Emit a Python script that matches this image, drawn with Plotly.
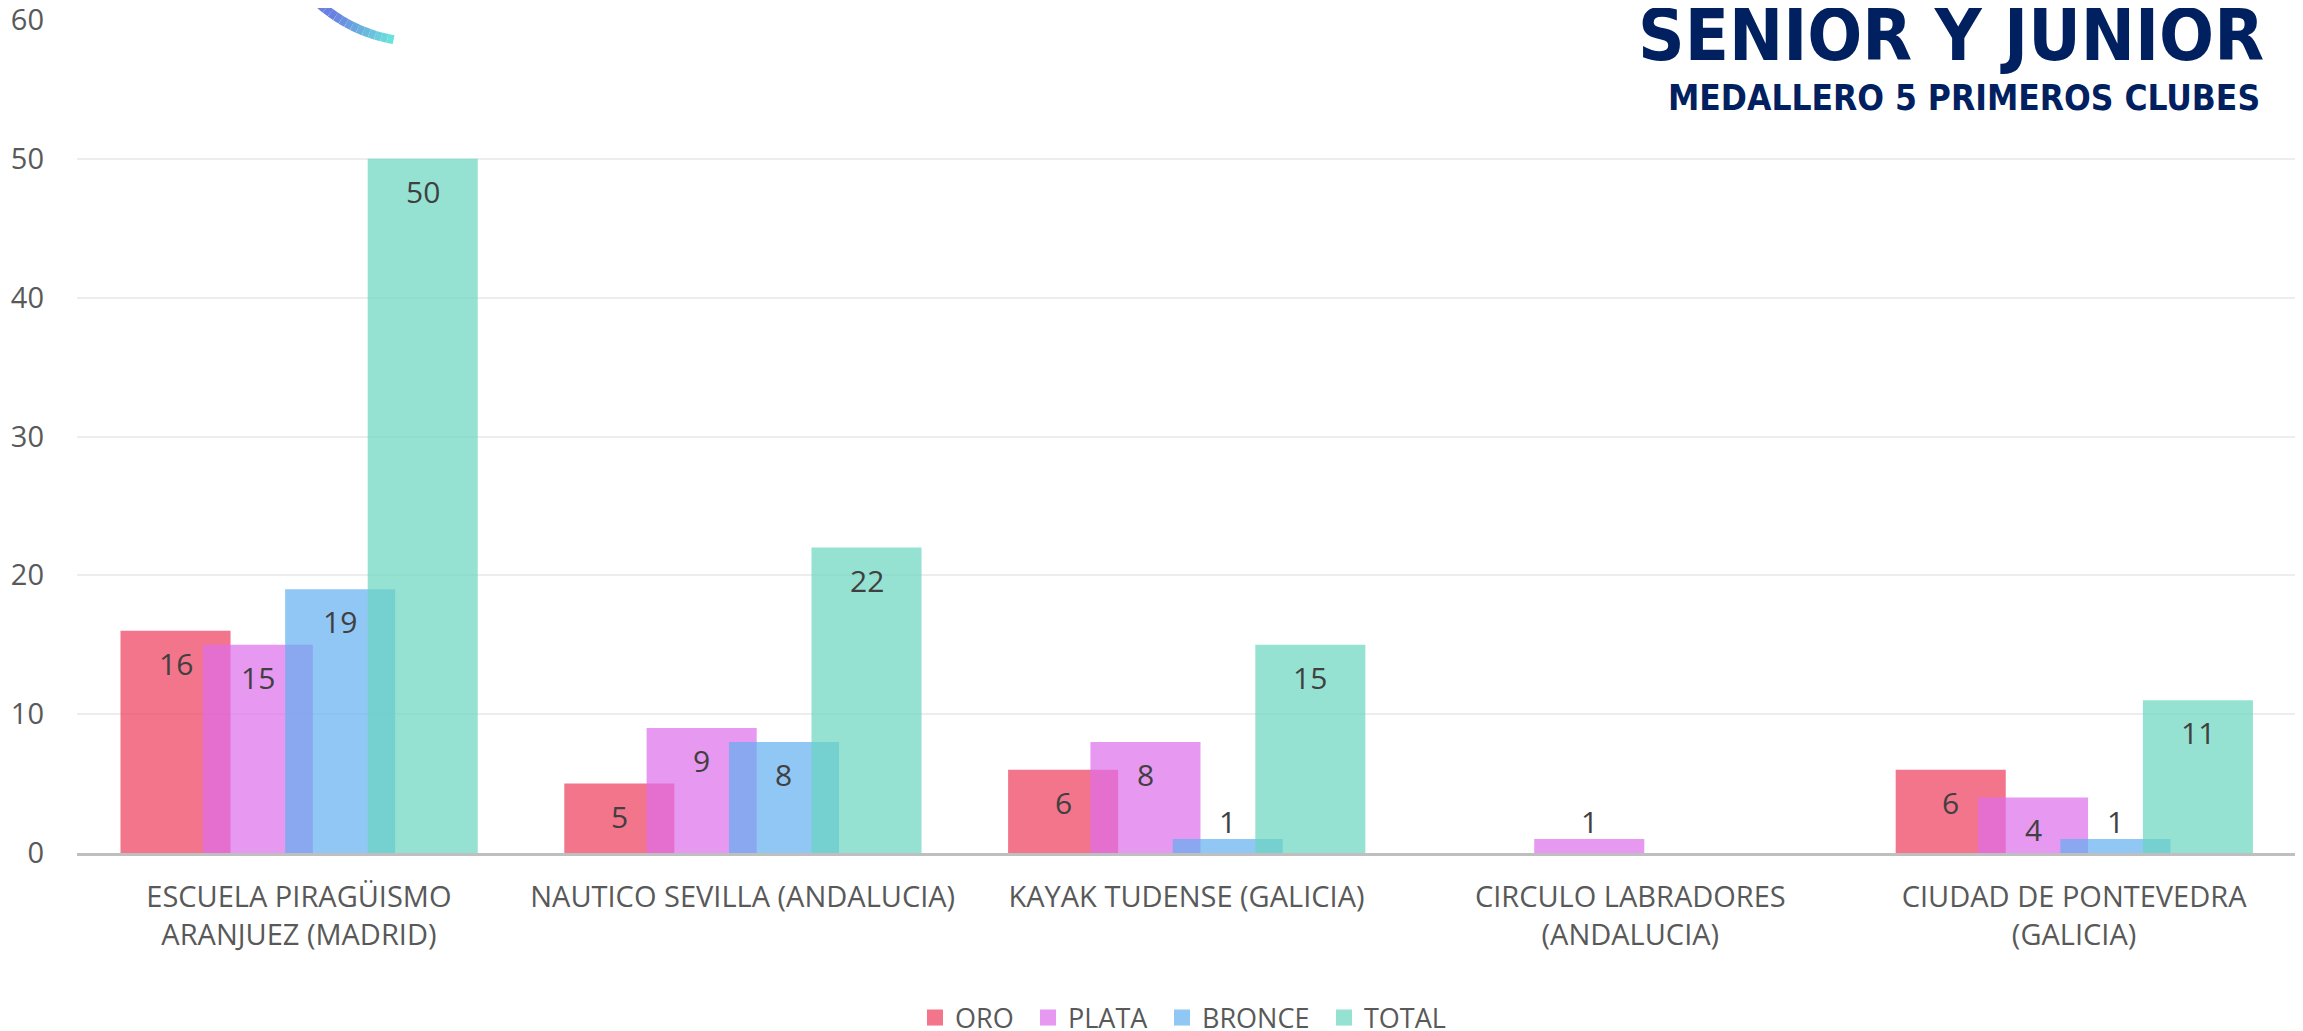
import math
import plotly.graph_objects as go

# ---- data ----
clubs = [
    "ESCUELA PIRAGÜISMO<br>ARANJUEZ (MADRID)",
    "NAUTICO SEVILLA (ANDALUCIA)",
    "KAYAK TUDENSE (GALICIA)",
    "CIRCULO LABRADORES<br>(ANDALUCIA)",
    "CIUDAD DE PONTEVEDRA<br>(GALICIA)",
]
oro = [16, 5, 6, None, 6]
plata = [15, 9, 8, 1, 4]
bronce = [19, 8, 1, None, 1]
total = [50, 22, 15, None, 11]

series_names = ["ORO", "PLATA", "BRONCE", "TOTAL"]
series_values = [oro, plata, bronce, total]
series_colors = ["rgb(238,59,91)", "rgb(221,108,235)", "rgb(98,175,239)", "rgb(106,214,191)"]
series_offsets = [-0.402, -0.2165, -0.031, 0.155]
BAR_W = 0.248
ALPHA = 0.7

title_text = "SENIOR Y JUNIOR"
subtitle_text = "MEDALLERO 5 PRIMEROS CLUBES"

# ---- layout geometry ----
# The page body has an 8px default margin, so the figure is made 8px smaller
# and all page-pixel positions are converted with that offset.
PAGE_W, PAGE_H = 2303, 1031
OFF = 8
W, H = PAGE_W - OFF, PAGE_H - OFF
ML, MR, MT, MB = 69, 7, 12, 178
PW = W - ML - MR
PH = H - MT - MB

def px2paper(px, py):
    """page pixel -> paper coordinates"""
    fx, fy = px - OFF, py - OFF
    return (fx - ML) / PW, (H - MB - fy) / PH

TEXT_FONT = "Open Sans, Noto Sans, sans-serif"
GREY = "#595959"
LABEL_GREY = "#404040"

legend_keys = ["legend", "legend2", "legend3", "legend4"]
legend_left_px = [915, 1028, 1162, 1324]

fig = go.Figure()
annotations = []
for name, vals, col, off, lk in zip(series_names, series_values, series_colors,
                                    series_offsets, legend_keys):
    fig.add_trace(go.Bar(
        x=clubs, y=vals, name=name,
        marker=dict(color=col, opacity=ALPHA, line=dict(width=0)),
        width=BAR_W, offset=off,
        showlegend=False,
        hoverinfo="x+y+name",
    ))
    # legend proxy with a larger square symbol
    fig.add_trace(go.Scatter(
        x=[None], y=[None], mode="markers", name=name,
        marker=dict(symbol="square", size=18, color=col, opacity=ALPHA),
        showlegend=True, legend=lk,
    ))
    # data labels (inside end of bar; above very short bars)
    for j, v in enumerate(vals):
        if v is None:
            continue
        inside = v > 1
        annotations.append(dict(
            x=j + off + BAR_W / 2, y=v, xref="x", yref="y",
            text=str(v), showarrow=False,
            xanchor="center",
            yanchor="top" if inside else "bottom",
            yshift=-10 if inside else -5,
            font=dict(family=TEXT_FONT, size=30, color=LABEL_GREY),
        ))

# decorative arc (logo fragment) in the top-left corner, drawn as gradient segments
cx, cy, r = 420, -110, 152
a0, a1 = math.radians(138), math.radians(100)
n = 16
c0 = (104, 128, 226)
c1 = (108, 230, 220)
shapes = []
for i in range(n):
    t0 = i / n
    t1 = (i + 1) / n
    ang0 = a0 + (a1 - a0) * t0
    ang1 = a0 + (a1 - a0) * t1
    x0, y0 = px2paper(cx + r * math.cos(ang0), cy + r * math.sin(ang0))
    x1, y1 = px2paper(cx + r * math.cos(ang1), cy + r * math.sin(ang1))
    tm = (t0 + t1) / 2
    tm = max(0.0, min(1.0, (tm - 0.35) / 0.65))
    col = tuple(int(c0[k] + (c1[k] - c0[k]) * tm) for k in range(3))
    shapes.append(dict(type="line", xref="paper", yref="paper",
                       x0=x0, y0=y0, x1=x1, y1=y1,
                       line=dict(color="rgb(%d,%d,%d)" % col, width=9),
                       layer="above"))

tx, ty = px2paper(2266, 35)
sx, sy = px2paper(2262, 98)
TITLE_FONT = "Liberation Sans Narrow, DejaVu Sans Condensed, Arial Narrow, sans-serif"

annotations += [
    dict(text="<b>" + title_text + "</b>", xref="paper", yref="paper",
         x=tx, y=ty, xanchor="right", yanchor="middle", showarrow=False,
         font=dict(family=TITLE_FONT, size=72, color="#002060")),
    dict(text="<b>" + subtitle_text + "</b>", xref="paper", yref="paper",
         x=sx, y=sy, xanchor="right", yanchor="middle", showarrow=False,
         font=dict(family=TITLE_FONT, size=35, color="#002060")),
]

legend_layouts = {}
for lk, lx in zip(legend_keys, legend_left_px):
    legend_layouts[lk] = dict(
        orientation="h",
        x=px2paper(lx, 0)[0], xanchor="left",
        y=px2paper(0, 1018)[1], yanchor="middle",
        font=dict(family=TEXT_FONT, size=27, color=GREY),
        itemwidth=30,
        bgcolor="rgba(0,0,0,0)",
    )

fig.update_layout(
    width=W, height=H,
    margin=dict(l=ML, r=MR, t=MT, b=MB, autoexpand=False),
    paper_bgcolor="white", plot_bgcolor="white",
    barmode="overlay",
    font=dict(family=TEXT_FONT, color=GREY),
    shapes=shapes,
    annotations=annotations,
    xaxis=dict(
        type="category",
        range=[-0.5, 4.5],
        showline=True, linecolor="#BFBFBF", linewidth=3,
        showgrid=False, ticks="",
        tickfont=dict(family=TEXT_FONT, size=29, color=GREY),
        ticklabelstandoff=16,
        automargin=False,
    ),
    yaxis=dict(
        range=[0, 60], dtick=10,
        showgrid=True, gridcolor="#EDEDED", gridwidth=1.5,
        zeroline=False, showline=False, ticks="",
        tickfont=dict(family=TEXT_FONT, size=29, color=GREY),
        ticklabelstandoff=32,
        ticklabeloverflow="allow",
        automargin=False,
    ),
    **legend_layouts,
)

fig.write_html("out.html")
